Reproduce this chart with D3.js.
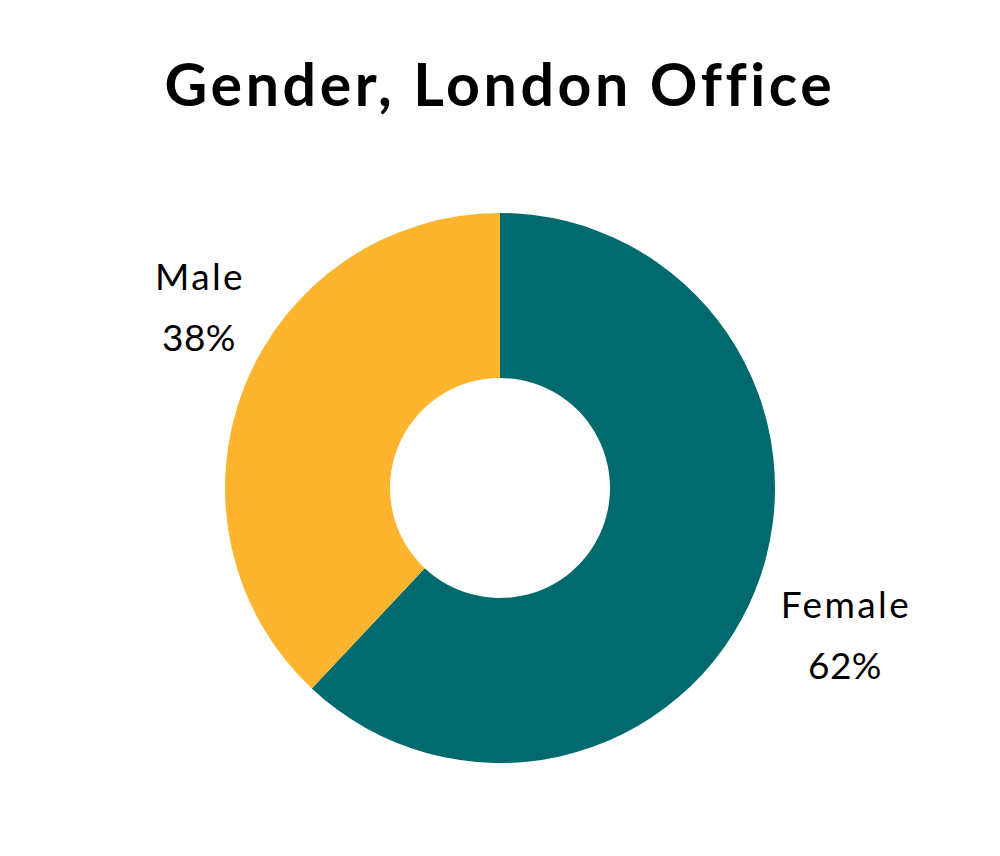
<!DOCTYPE html>
<html><head><meta charset="utf-8">
<script src="https://cdn.jsdelivr.net/npm/d3@7"></script>
<style>body{margin:0;background:#fff}svg{display:block}</style>
</head><body>
<svg id="c" width="1000" height="856"></svg>
<script>
const categories = ["Female", "Male"];
const values = [62, 38];
const colors = ["#016A6E", "#FDB52F"];
const title = "Gender, London Office";

const svg = d3.select("#c");
const cx = 500, cy = 488, outerR = 275, innerR = 110;

svg.append("text").attr("x", 500).attr("y", 106).attr("text-anchor", "middle")
  .attr("font-family", "Lato, sans-serif").attr("font-weight", 700).attr("font-size", 59)
  .attr("letter-spacing", "3.6px")
  .attr("fill", "#000").text(title);

const pie = d3.pie().sort(null).value(d => d)(values);
const arc = d3.arc().innerRadius(innerR).outerRadius(outerR);
const g = svg.append("g").attr("transform", `translate(${cx},${cy})`);
g.selectAll("path").data(pie).join("path").attr("d", arc).attr("fill", (d, i) => colors[i]);

const labelPos = [{x: 846, y: 618}, {x: 200, y: 290}];
const lab = svg.append("g").attr("font-family", "Lato, sans-serif").attr("font-size", 37)
  .attr("fill", "#000").attr("text-anchor", "middle");
categories.forEach((c, i) => {
  lab.append("text").attr("x", labelPos[i].x).attr("y", labelPos[i].y).attr("letter-spacing", "2.4px").text(c);
  lab.append("text").attr("x", labelPos[i].x - 1).attr("y", labelPos[i].y + 61).attr("letter-spacing", "0.5px").text(values[i] + "%");
});
</script>
</body></html>
